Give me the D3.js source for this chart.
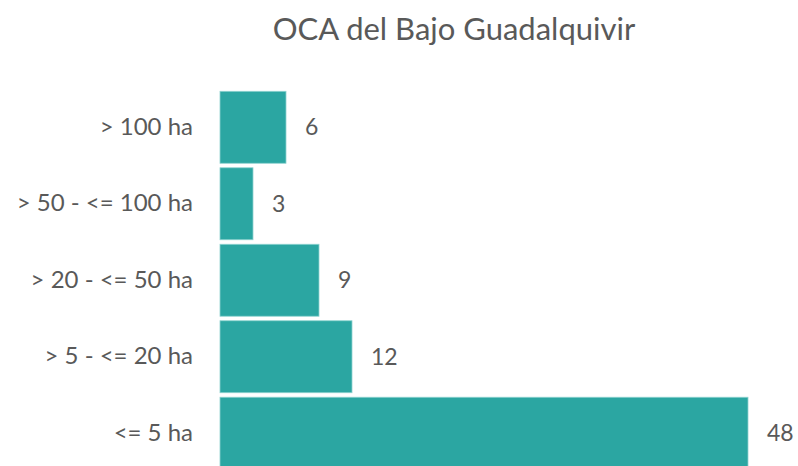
<!DOCTYPE html>
<html>
<head>
<meta charset="utf-8">
<script src="https://cdn.jsdelivr.net/npm/d3@7"></script>
<style>
body { margin: 0; background: #fff; }
</style>
</head>
<body>
<div id="barchart"></div>
<script>
// categories, top to bottom
var categories = ["> 100 ha", "> 50 - <= 100 ha", "> 20 - <= 50 ha", "> 5 - <= 20 ha", "<= 5 ha"];
var values = [6, 3, 9, 12, 48];

var margin = {top: 89, right: 50, bottom: -6, left: 220},
    width = 798 - margin.left - margin.right,
    height = 466 - margin.top - margin.bottom;

var svg = d3.select("#barchart").append("svg")
    .attr("width", 798)
    .attr("height", 466)
  .append("g")
    .attr("transform", "translate(" + margin.left + "," + margin.top + ")");

// title
svg.append("text")
    .attr("x", 454 - margin.left)
    .attr("y", 40 - margin.top)
    .attr("text-anchor", "middle")
    .style("font-family", "Lato, 'Open Sans', sans-serif")
    .style("font-size", "31px")
    .style("fill", "#595959")
    .text("OCA del Bajo Guadalquivir");

var x = d3.scaleLinear()
    .domain([0, 48])
    .range([0, 528]);

var y = d3.scaleBand()
    .domain(categories)
    .range([0, 76.5 * 5])
    .paddingInner(0.059)
    .paddingOuter(0.03);

var data = categories.map(function(c, i) { return {cat: c, val: values[i]}; });

svg.selectAll(".bar")
    .data(data)
  .enter().append("rect")
    .attr("class", "bar")
    .attr("x", 0)
    .attr("y", function(d) { return y(d.cat); })
    .attr("width", function(d) { return x(d.val); })
    .attr("height", y.bandwidth())
    .attr("fill", "#2ba6a2")
    .attr("stroke", "#8fd3d0")
    .attr("stroke-width", 0.8);

// category axis, no line or ticks
var yAxis = svg.append("g")
    .call(d3.axisLeft(y).tickSize(0).tickPadding(27));
yAxis.select(".domain").remove();
yAxis.selectAll("text")
    .style("font-family", "Lato, 'Open Sans', sans-serif")
    .style("font-size", "24px")
    .style("fill", "#595959");

// value labels
svg.selectAll(".lbl")
    .data(data)
  .enter().append("text")
    .attr("class", "lbl")
    .attr("x", function(d) { return x(d.val) + 19; })
    .attr("y", function(d) { return y(d.cat) + y.bandwidth() / 2; })
    .attr("dy", "0.35em")
    .style("font-family", "Lato, 'Open Sans', sans-serif")
    .style("font-size", "23px")
    .style("fill", "#595959")
    .text(function(d) { return d.val; });
</script>
</body>
</html>
